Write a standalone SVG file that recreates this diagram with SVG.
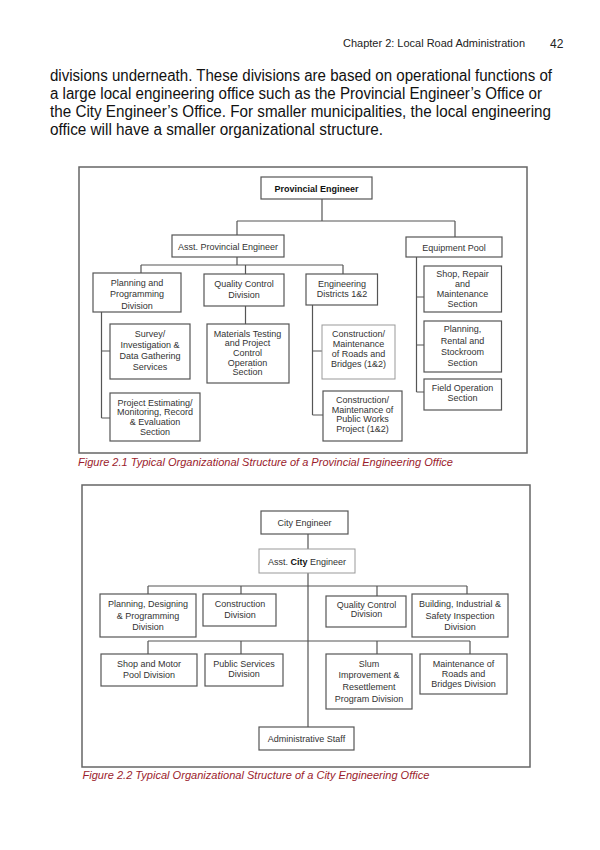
<svg xmlns="http://www.w3.org/2000/svg" width="600" height="850" viewBox="0 0 600 850">
<style>
.hdr{font-family:"Liberation Sans",Arial,sans-serif;font-size:10.5px;fill:#222}
.para{font-family:"Liberation Sans",Arial,sans-serif;font-size:16px;fill:#111}
.frame{fill:none;stroke:#666;stroke-width:1.5}
.box{fill:#fff;stroke:#555;stroke-width:1.2}
.lbox{fill:#fff;stroke:#999;stroke-width:1}
.t{font-family:"Liberation Sans",Arial,sans-serif;font-size:9px;fill:#333;text-anchor:middle}
.b{font-weight:bold;fill:#111}
.conn path{fill:none;stroke:#555;stroke-width:1.2}
.cap{font-family:"Liberation Sans",Arial,sans-serif;font-size:11px;font-style:italic;fill:#9b1c2c}
</style>
<rect width="600" height="850" fill="#fff"/>
<text class="hdr" x="343" y="47" textLength="182" lengthAdjust="spacingAndGlyphs">Chapter 2: Local Road Administration</text>
<text class="hdr" x="550" y="47.5" style="font-size:12px">42</text>
<text class="para" x="50" y="81" textLength="502" lengthAdjust="spacingAndGlyphs">divisions underneath. These divisions are based on operational functions of</text>
<text class="para" x="50" y="99" textLength="492" lengthAdjust="spacingAndGlyphs">a large local engineering office such as the Provincial Engineer’s Office or</text>
<text class="para" x="50" y="117" textLength="501" lengthAdjust="spacingAndGlyphs">the City Engineer’s Office. For smaller municipalities, the local engineering</text>
<text class="para" x="50" y="135" textLength="333" lengthAdjust="spacingAndGlyphs">office will have a smaller organizational structure.</text>

<!-- Figure 2.1 -->
<rect class="frame" x="79" y="167" width="448" height="286"/>
<g id="conn1" class="conn">
<path d="M322,199V221M237,221H455M237,221V235M455,221V237"/>
<path d="M237,257V265M141,265H343M141,265V273M245.5,265V274M343,265V274"/>
<path d="M101.5,312V418M101.5,351H110M101.5,418H110"/>
<path d="M245.5,306V324"/>
<path d="M312.5,305V415M312.5,351H322M312.5,415H323"/>
<path d="M416.5,257V392M416.5,297H424M416.5,345H424M416.5,392H424"/>
</g>
<g id="provincial-engineer"><rect class="box" x="261" y="177" width="111" height="22"/><text class="t b" x="316.5" y="191.5">Provincial Engineer</text></g>
<g id="asst-provincial-engineer"><rect class="box" x="172" y="235" width="112" height="22"/><text class="t" x="228" y="249.5">Asst. Provincial Engineer</text></g>
<g id="equipment-pool"><rect class="box" x="406" y="237" width="96" height="20"/><text class="t" x="454" y="250.5">Equipment Pool</text></g>
<g id="planning-programming"><rect class="box" x="93" y="273" width="88" height="39"/><text class="t" x="137" y="285.5">Planning and</text><text class="t" x="137" y="297">Programming</text><text class="t" x="137" y="308.5">Division</text></g>
<g id="quality-control-1"><rect class="box" x="204" y="274" width="80" height="32"/><text class="t" x="244" y="286.5">Quality Control</text><text class="t" x="244" y="297.5">Division</text></g>
<g id="engineering-districts"><rect class="box" x="306" y="274" width="71.5" height="31"/><text class="t" x="342" y="287">Engineering</text><text class="t" x="342" y="296.5">Districts 1&amp;2</text></g>
<g id="shop-repair"><rect class="box" x="424" y="266" width="77.5" height="46"/><text class="t" x="462.5" y="276.5">Shop, Repair</text><text class="t" x="462.5" y="287">and</text><text class="t" x="462.5" y="297">Maintenance</text><text class="t" x="462.5" y="306.5">Section</text></g>
<g id="planning-rental"><rect class="box" x="424" y="321" width="77.5" height="51"/><text class="t" x="462.5" y="332">Planning,</text><text class="t" x="462.5" y="343.5">Rental and</text><text class="t" x="462.5" y="355">Stockroom</text><text class="t" x="462.5" y="366">Section</text></g>
<g id="field-operation"><rect class="box" x="424" y="379" width="77.5" height="31"/><text class="t" x="462.5" y="390.5">Field Operation</text><text class="t" x="462.5" y="400.5">Section</text></g>
<g id="survey"><rect class="box" x="110" y="324" width="80" height="55"/><text class="t" x="150" y="336.5">Survey/</text><text class="t" x="150" y="347.5">Investigation &amp;</text><text class="t" x="150" y="359">Data Gathering</text><text class="t" x="150" y="370">Services</text></g>
<g id="materials-testing"><rect class="box" x="207" y="324" width="82" height="59"/><text class="t" x="247.5" y="336.5">Materials Testing</text><text class="t" x="247.5" y="346">and Project</text><text class="t" x="247.5" y="356">Control</text><text class="t" x="247.5" y="365.5">Operation</text><text class="t" x="247.5" y="375">Section</text></g>
<g id="project-estimating"><rect class="box" x="110" y="393" width="90" height="48"/><text class="t" x="155" y="405.5">Project Estimating/</text><text class="t" x="155" y="415">Monitoring, Record</text><text class="t" x="155" y="425">&amp; Evaluation</text><text class="t" x="155" y="434.5">Section</text></g>
<g id="construction-roads"><rect class="lbox" x="322" y="325" width="73" height="54"/><text class="t" x="358.5" y="337">Construction/</text><text class="t" x="358.5" y="347">Maintenance</text><text class="t" x="358.5" y="356.5">of Roads and</text><text class="t" x="358.5" y="366.5">Bridges (1&amp;2)</text></g>
<g id="construction-public-works"><rect class="box" x="323" y="391" width="79" height="50"/><text class="t" x="362.5" y="403">Construction/</text><text class="t" x="362.5" y="412.5">Maintenance of</text><text class="t" x="362.5" y="422">Public Works</text><text class="t" x="362.5" y="432">Project (1&amp;2)</text></g>
<text class="cap" x="78" y="465.5" textLength="375" lengthAdjust="spacingAndGlyphs">Figure 2.1 Typical Organizational Structure of a Provincial Engineering Office</text>

<!-- Figure 2.2 -->
<rect class="frame" x="82" y="485" width="448" height="282"/>
<g id="conn2" class="conn">
<path d="M308,534V549M308,573V727"/>
<path d="M148,586H467M148,586V594M241,586V594M377,586V596M467,586V594"/>
<path d="M148,641H470M148,641V654M241,641V654M377,641V654M470,641V654"/>
</g>
<g id="city-engineer"><rect class="box" x="261" y="511" width="87" height="23"/><text class="t" x="304.5" y="525.5">City Engineer</text></g>
<g id="asst-city-engineer"><rect class="lbox" x="259" y="549" width="96" height="24"/><text class="t" x="307" y="564.5">Asst. <tspan class="b">City</tspan> Engineer</text></g>
<g id="planning-designing"><rect class="box" x="100" y="594" width="96" height="43"/><text class="t" x="148" y="607">Planning, Designing</text><text class="t" x="148" y="618.5">&amp; Programming</text><text class="t" x="148" y="630">Division</text></g>
<g id="construction-division"><rect class="box" x="203" y="594" width="73" height="32"/><text class="t" x="240" y="607">Construction</text><text class="t" x="240" y="618">Division</text></g>
<g id="quality-control-2"><rect class="box" x="326" y="596" width="80" height="31"/><text class="t" x="366.5" y="607.5">Quality Control</text><text class="t" x="366.5" y="617">Division</text></g>
<g id="building-industrial"><rect class="box" x="412" y="594" width="96" height="43"/><text class="t" x="460" y="607">Building, Industrial &amp;</text><text class="t" x="460" y="618.5">Safety Inspection</text><text class="t" x="460" y="630">Division</text></g>
<g id="shop-motor-pool"><rect class="box" x="101" y="654" width="96" height="32"/><text class="t" x="149" y="666.5">Shop and Motor</text><text class="t" x="149" y="677.5">Pool Division</text></g>
<g id="public-services"><rect class="box" x="205" y="654" width="78" height="32"/><text class="t" x="244" y="667">Public Services</text><text class="t" x="244" y="677">Division</text></g>
<g id="slum-improvement"><rect class="box" x="326" y="654" width="86" height="55"/><text class="t" x="369" y="666.5">Slum</text><text class="t" x="369" y="678">Improvement &amp;</text><text class="t" x="369" y="690">Resettlement</text><text class="t" x="369" y="701.5">Program Division</text></g>
<g id="maintenance-roads"><rect class="box" x="420" y="654" width="87" height="40"/><text class="t" x="463.5" y="666.5">Maintenance of</text><text class="t" x="463.5" y="677">Roads and</text><text class="t" x="463.5" y="686.5">Bridges Division</text></g>
<g id="administrative-staff"><rect class="box" x="259" y="727" width="95" height="23"/><text class="t" x="306.5" y="742">Administrative Staff</text></g>
<text class="cap" x="82.5" y="779" textLength="347" lengthAdjust="spacingAndGlyphs">Figure 2.2 Typical Organizational Structure of a City Engineering Office</text>
</svg>
